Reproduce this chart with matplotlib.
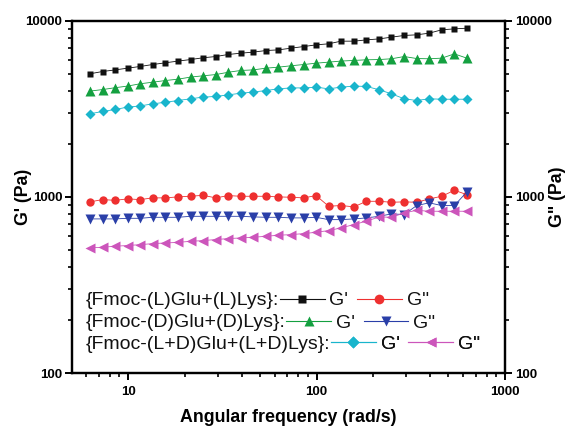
import matplotlib
matplotlib.use("Agg")
import matplotlib.pyplot as plt
from matplotlib.lines import Line2D
from matplotlib.ticker import LogLocator, NullFormatter

plt.rcParams['font.family'] = ['Liberation Sans', 'DejaVu Sans']

# angular frequency (rad/s)
freq = [6.28, 7.32, 8.54, 9.95, 11.6, 13.5, 15.8, 18.4, 21.5, 25.0, 29.2,
        34.0, 39.6, 46.2, 53.9, 62.8, 73.2, 85.4, 99.5, 116, 135, 158, 184,
        215, 250, 292, 340, 396, 462, 539, 628]

# {Fmoc-(L)Glu+(L)Lys}
g1_storage = [4990, 5140, 5250, 5370, 5490, 5630, 5760, 5890, 6010, 6150, 6250,
              6420, 6530, 6620, 6760, 6820, 6970, 7120, 7280, 7380, 7640, 7640,
              7770, 7870, 8050, 8230, 8300, 8480, 8860, 8970, 9050]
g1_loss = [937, 965, 956, 974, 965, 987, 987, 1000, 1008, 1021, 987,
           1017, 1008, 1008, 1008, 1000, 995, 987, 1017, 885, 893, 878,
           944, 944, 932, 937, 932, 974, 1008, 1090, 1030]

# {Fmoc-(D)Glu+(D)Lys}
g2_storage = [3980, 4060, 4160, 4250, 4380, 4470, 4570, 4650, 4780, 4860, 4940,
              5090, 5210, 5250, 5370, 5440, 5540, 5630, 5730, 5810, 5890, 5940,
              5990, 6010, 6070, 6250, 6090, 6070, 6120, 6470, 6120]
g2_loss = [750, 750, 750, 756, 756, 766, 766, 766, 776, 776, 776,
           776, 776, 770, 766, 766, 760, 760, 766, 743, 743, 750,
           760, 776, 801, 794, 893, 925, 893, 893, 1067]

# {Fmoc-(L+D)Glu+(L+D)Lys}
g3_storage = [2960, 3050, 3130, 3230, 3280, 3370, 3440, 3520, 3600, 3680, 3710,
              3790, 3870, 3930, 4010, 4100, 4150, 4150, 4190, 4100, 4190, 4250,
              4230, 4050, 3840, 3600, 3520, 3600, 3580, 3580, 3580]
g3_loss = [514, 518, 525, 530, 536, 543, 548, 552, 560, 565, 573,
           580, 585, 590, 598, 606, 611, 619, 630, 644, 667, 697,
           728, 770, 766, 811, 839, 829, 829, 829, 829]

groups = ["{Fmoc-(L)Glu+(L)Lys}:", "{Fmoc-(D)Glu+(D)Lys}:",
          "{Fmoc-(L+D)Glu+(L+D)Lys}:"]

series = [
    (g1_storage, g1_loss, ('s', '#111111', 5), ('o', '#ee3030', 6)),
    (g2_storage, g2_loss, ('^', '#14a040', 6.5), ('v', '#2a3fa8', 6.5)),
    (g3_storage, g3_loss, ('D', '#19b5cc', 5), ('<', '#cc55bb', 6.5)),
]

fig = plt.figure(figsize=(5.68, 4.28), dpi=100)
ax = fig.add_axes([0.127, 0.128, 0.762, 0.824])

for st, lo, m1, m2 in series:
    ax.plot(freq, st, marker=m1[0], color=m1[1], ms=m1[2], lw=0.6, mec='none')
    ax.plot(freq, lo, marker=m2[0], color=m2[1], ms=m2[2], lw=0.6, mec='none')

ax.set_xscale('log')
ax.set_yscale('log')
ax.set_xlim(5.05, 1000)
ax.set_ylim(100, 10000)

ax2 = ax.twinx()
ax2.set_yscale('log')
ax2.set_ylim(100, 10000)

for a in (ax, ax2):
    for s in a.spines.values():
        s.set_linewidth(1.6)
    a.tick_params(which='major', direction='out', length=5, width=1.4,
                  labelsize=9.5, pad=2)
    a.tick_params(which='minor', direction='out', length=3, width=1.2)
    a.yaxis.set_minor_locator(LogLocator(base=10, subs=range(2, 10)))
    a.yaxis.set_minor_formatter(NullFormatter())

ax.tick_params(axis='x', which='both', top=False)
ax.tick_params(axis='x', which='major', pad=4)
ax.xaxis.set_minor_locator(LogLocator(base=10, subs=range(2, 10)))
ax.xaxis.set_minor_formatter(NullFormatter())
ax.set_xticks([10, 100, 1000])
ax.set_xticklabels(['10', '100', '1000'], fontweight='bold', fontsize=9.5)
ax.set_yticks([100, 1000, 10000])
ax.set_yticklabels(['100', '1000', '10000'], fontweight='bold', fontsize=9.5)
ax2.set_yticks([100, 1000, 10000])
ax2.set_yticklabels(['100', '1000', '10000'], fontweight='bold', fontsize=9.5)

ax.set_xlabel('Angular frequency (rad/s)', fontsize=12.8, fontweight='bold',
              labelpad=8)
ax.set_ylabel("G' (Pa)", fontsize=12.8, fontweight='bold')
ax.yaxis.set_label_coords(-0.092, 0.5)
ax2.set_ylabel('G" (Pa)', fontsize=12.8, fontweight='bold')
ax2.yaxis.set_label_coords(1.102, 0.5)

# legend: group text followed by G' / G" handles
row_y = [0.206, 0.143, 0.082]
fig.canvas.draw()
renderer = fig.canvas.get_renderer()
for name, (st, lo, m1, m2), yy in zip(groups, series, row_y):
    t = ax2.text(0.031, yy, name, transform=ax2.transAxes, fontsize=14,
                 va='center', ha='left', color='#111111')
    bb = t.get_window_extent(renderer).transformed(ax2.transAxes.inverted())
    h1 = Line2D([], [], marker=m1[0], color=m1[1], ms=m1[2] + 1, lw=0.8, mec='none')
    h2 = Line2D([], [], marker=m2[0], color=m2[1], ms=m2[2] + 1, lw=0.8, mec='none')
    leg = ax2.legend([h1, h2], ["G'", 'G"'], ncol=2, frameon=False,
                     loc='center left', bbox_to_anchor=(bb.x1 + 0.002, yy),
                     bbox_transform=ax2.transAxes, fontsize=14, numpoints=1,
                     handlelength=2.3, handletextpad=0.25, columnspacing=0.45,
                     borderpad=0, borderaxespad=0)
    for txt in leg.get_texts():
        txt.set_color('#111111')
    ax2.add_artist(leg)

fig.savefig('out.png', dpi=100)
